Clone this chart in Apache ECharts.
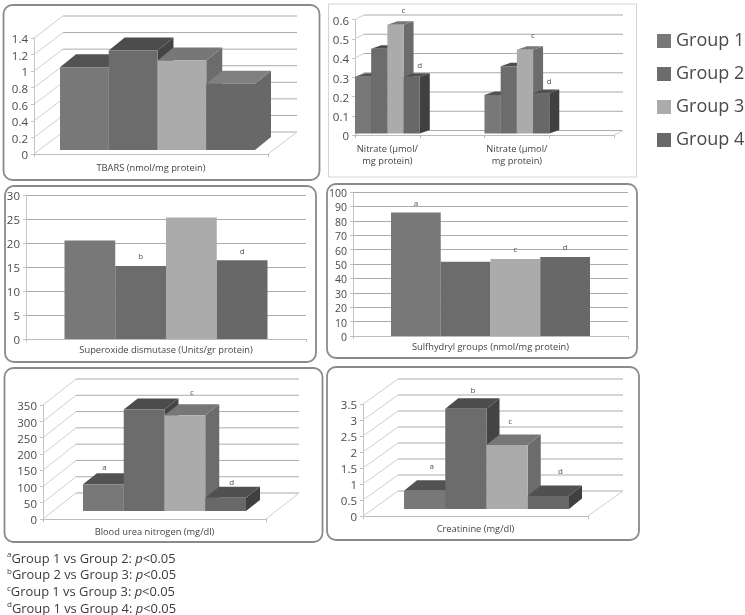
<!DOCTYPE html>
<html><head><meta charset="utf-8">
<style>html,body{margin:0;padding:0;background:#fff}#c{width:745px;height:615px;filter:blur(0.45px)}</style>
<script src="https://cdn.jsdelivr.net/npm/echarts@6/dist/echarts.min.js"></script>
</head><body><div id="c"></div>
<script>
const groups = ['Group 1','Group 2','Group 3','Group 4'];

const tbarsCats = ['TBARS (nmol/mg protein)'];
const tbarsTicks = [0,0.2,0.4,0.6,0.8,1,1.2,1.4];
const tbarsValues = [[1.0],[1.2],[1.08],[0.8]];

const nitrateCats = ['Nitrate (µmol/\nmg protein)','','Nitrate (µmol/\nmg protein)',''];
const nitrateTicks = [0,0.1,0.2,0.3,0.4,0.5,0.6];
const nitrateValues = [[0.295,null,0.2,null],[0.44,null,0.35,null],[0.565,null,0.435,null],[0.295,null,0.21,null]];
const nitrateLetters = [['',null,'',null],['',null,'',null],['c',null,'c',null],['d',null,'d',null]];

const sodCats = ['Superoxide dismutase (Units/gr protein)'];
const sodTicks = [0,5,10,15,20,25,30];
const sodValues = [[20.5],[15.2],[25.3],[16.4]];
const sodLetters = [[''],['b'],[''],['d']];

const shCats = ['Sulfhydryl groups (nmol/mg protein)'];
const shTicks = [0,10,20,30,40,50,60,70,80,90,100];
const shValues = [[85.7],[51.6],[53.4],[54.8]];
const shLetters = [['a'],[''],['c'],['d']];

const bunCats = ['Blood urea nitrogen (mg/dl)'];
const bunTicks = [0,50,100,150,200,250,300,350];
const bunValues = [[82],[312],[294],[41]];
const bunLetters = [['a'],[''],['c'],['d']];

const creCats = ['Creatinine (mg/dl)'];
const creTicks = [0,0.5,1,1.5,2,2.5,3,3.5];
const creValues = [[0.57],[3.13],[2.0],[0.41]];
const creLetters = [['a'],['b'],['c'],['d']];

const footnotes = [['a','Group 1 vs Group 2: '],['b','Group 2 vs Group 3: '],['c','Group 1 vs Group 3: '],['d','Group 1 vs Group 4: ']];
const pText = 'p';
const pTail = '<0.05';

const FONT = '"Open Sans"';
const swatch = ['#787878','#6c6c6c','#ababab','#686868'];
const faces = [
  {top:'#525252',side:'#4a4a4a'},
  {top:'#4c4c4c',side:'#444444'},
  {top:'#777777',side:'#6c6c6c'},
  {top:'#505050',side:'#404040'}
];

const panels = [
 {cats:tbarsCats,ticks:tbarsTicks,values:tbarsValues,letters:null,grid:[34,38,234,116],threeD:true,barW:48.75,sx:6.5,sy:-4,dx:16,dy:-13,wx:29,wy:-22,
  face3:{top:'#808080',side:'#686868'},margin:8,tickFont:11.5,
  frame:{x:3.5,y:5,w:316,h:175,r:9,stroke:'#8a8a8a',lw:1.8}},
 {cats:nitrateCats,ticks:nitrateTicks,values:nitrateValues,letters:nitrateLetters,grid:[355,19.5,259,115.5],threeD:true,barW:16.2,sx:0,sy:-1.5,dx:10,dy:-3.5,wx:9,wy:-4.5,
  shift:{c:[8,-14],d:[8,-11]},margin:8,tickFont:11.5,
  frame:{x:328.5,y:4,w:308,h:173,r:0,stroke:'#d4d4d4',lw:1}},
 {cats:sodCats,ticks:sodTicks,values:sodValues,letters:sodLetters,grid:[26,195,280,144],barW:50.75,margin:5,tickFont:11.5,
  frame:{x:5,y:186,w:311,h:176,r:9,stroke:'#8a8a8a',lw:1.8}},
 {cats:shCats,ticks:shTicks,values:shValues,letters:shLetters,grid:[353,192,275,144],barW:49.75,margin:5,tickFont:10.5,
  frame:{x:327,y:184,w:310,h:174,r:9,stroke:'#8a8a8a',lw:1.8}},
 {cats:bunCats,ticks:bunTicks,values:bunValues,letters:bunLetters,grid:[43,405,223,114],threeD:true,barW:40.75,sx:10,sy:-8,dx:14,dy:-11,wx:33,wy:-26,
  shift:{a:[1,-17],c:[7,-23],d:[6,-15]},margin:7,tickFont:11.5,
  frame:{x:4.5,y:368,w:318,h:174,r:9,stroke:'#8a8a8a',lw:1.8}},
 {cats:creCats,ticks:creTicks,values:creValues,letters:creLetters,grid:[363,404,225,112],threeD:true,barW:41.25,sx:11,sy:-7,dx:13,dy:-10.5,wx:35,wy:-25,
  shift:{a:[7,-24],b:[7,-18],c:[3,-23],d:[12,-24]},margin:7,tickFont:11.5,
  frame:{x:327,y:367,w:312,h:173,r:9,stroke:'#8a8a8a',lw:1.8}}
];

const grids=[],xAxes=[],yAxes=[],series=[],graphics=[];
const labelColor='#4a4a4a';

panels.forEach((p,idx)=>{
  grids.push({left:p.grid[0],top:p.grid[1],width:p.grid[2],height:p.grid[3],containLabel:false});
  xAxes.push({type:'category',gridIndex:idx,data:p.cats,
    axisLine:{show:true,lineStyle:{color:'#bdbdbd'}},axisTick:{show:true,length:3,lineStyle:{color:'#bdbdbd'}},
    axisLabel:{interval:0,fontFamily:FONT,fontSize:9.3,color:'#444',margin:p.margin+1,lineHeight:11.5}});
  const t=p.ticks;
  yAxes.push({type:'value',gridIndex:idx,min:t[0],max:t[t.length-1],interval:t[1]-t[0],
    axisLine:{show:true,lineStyle:{color:'#c4c4c4'}},axisTick:{show:true,length:3,lineStyle:{color:'#c4c4c4'}},
    axisLabel:{fontFamily:FONT,fontSize:p.tickFont,color:labelColor,margin:6,verticalAlign:'top',lineHeight:4},
    splitLine:{show:!p.threeD,lineStyle:{color:'#ababab'}}});

  if(p.threeD){
    series.push({type:'custom',xAxisIndex:idx,yAxisIndex:idx,z:1,silent:true,
      data:t.map(v=>[0,v]),encode:{x:0,y:1},
      renderItem:(params,api)=>{
        const cs=params.coordSys,v=api.value(1),y=api.coord([0,v])[1];
        const xb=cs.x+p.wx,yb=y+p.wy,xr=cs.x+cs.width+p.wx;
        const kids=[
          {type:'line',shape:{x1:cs.x,y1:y,x2:xb,y2:yb},style:{stroke:'#cfcfcf',lineWidth:1}},
          {type:'line',shape:{x1:xb,y1:yb,x2:xr,y2:yb},style:{stroke:'#ababab',lineWidth:1}}
        ];
        if(v===t[0]) kids.push({type:'line',shape:{x1:cs.x+cs.width,y1:y,x2:xr,y2:yb},style:{stroke:'#cfcfcf',lineWidth:1}});
        return {type:'group',children:kids};
      }});
    groups.forEach((g,i)=>{
      const vals=p.values[i],lets=p.letters?p.letters[i]:null;
      const f=(i===3&&p.face3)?p.face3:faces[i];
      const data=[];
      vals.forEach((v,c)=>{if(v!==null)data.push([c,v]);});
      series.push({type:'custom',name:g,xAxisIndex:idx,yAxisIndex:idx,z:2+i,
        itemStyle:{color:swatch[i]},data,encode:{x:0,y:1},
        renderItem:(params,api)=>{
          const c=api.value(0),v=api.value(1);
          const tp=api.coord([c,v]),bs=api.coord([c,0]);
          const x0=tp[0]-2*p.barW+i*p.barW+p.sx,x1=x0+p.barW;
          const yt=tp[1]+p.sy,yb=bs[1]+p.sy,dx=p.dx,dy=p.dy;
          const kids=[
            {type:'polygon',shape:{points:[[x1,yt],[x1+dx,yt+dy],[x1+dx,yb+dy],[x1,yb]]},style:{fill:f.side}},
            {type:'polygon',shape:{points:[[x0,yt],[x0+dx,yt+dy],[x1+dx,yt+dy],[x1,yt]]},style:{fill:f.top}},
            {type:'rect',shape:{x:x0,y:yt,width:p.barW,height:yb-yt},style:{fill:swatch[i]}}
          ];
          const L=lets?lets[c]:'';
          if(L){
            const s=p.shift[L];
            kids.push({type:'text',z2:50,style:{text:L,x:x0+p.barW/2+s[0],y:yt+s[1],align:'center',verticalAlign:'middle',
              font:'400 8px '+FONT,fill:'#555'}});
          }
          return {type:'group',children:kids};
        }});
    });
  } else {
    groups.forEach((g,i)=>{
      series.push({type:'bar',name:g,xAxisIndex:idx,yAxisIndex:idx,barWidth:p.barW,barGap:'0%',z:2+i,
        itemStyle:{color:swatch[i]},
        data:p.values[i].map((v,c)=>{
          const L=p.letters[i][c];
          return {value:v,label:{show:!!L,formatter:L,position:'top',distance:5,fontFamily:FONT,fontSize:8,fontWeight:400,color:'#555'}};
        })});
    });
  }
  const fr=p.frame;
  graphics.push({type:'rect',z:-1,silent:true,shape:{x:fr.x,y:fr.y,width:fr.w,height:fr.h,r:fr.r},
    style:{fill:'#fff',stroke:fr.stroke,lineWidth:fr.lw}});
});

footnotes.forEach((n,i)=>{
  graphics.push({type:'text',left:7,top:551+i*16.65,silent:true,
    style:{rich:{
      s:{fontFamily:FONT,fontSize:8,fill:'#3c3c3c',verticalAlign:'top',lineHeight:16,padding:[0,0,5,0]},
      n:{fontFamily:FONT,fontSize:12.9,fill:'#3c3c3c',lineHeight:16},
      i:{fontFamily:FONT,fontSize:12.9,fill:'#3c3c3c',fontStyle:'italic',lineHeight:16}
    },text:'{s|'+n[0]+'}{n|'+n[1]+'}{i|'+pText+'}{n|'+pTail+'}'}});
});

const chart=echarts.init(document.getElementById('c'),null,{renderer:'canvas',width:745,height:615});
chart.setOption({
  animation:false,backgroundColor:'#fff',
  legend:{data:groups,orient:'vertical',left:657,top:32,padding:0,itemWidth:14,itemHeight:14,itemGap:15,icon:'rect',selectedMode:false,
    textStyle:{fontFamily:FONT,fontSize:18,color:'#4a4a4a'},formatter:n=>n},
  grid:grids,xAxis:xAxes,yAxis:yAxes,series,graphic:graphics
});
</script></body></html>
